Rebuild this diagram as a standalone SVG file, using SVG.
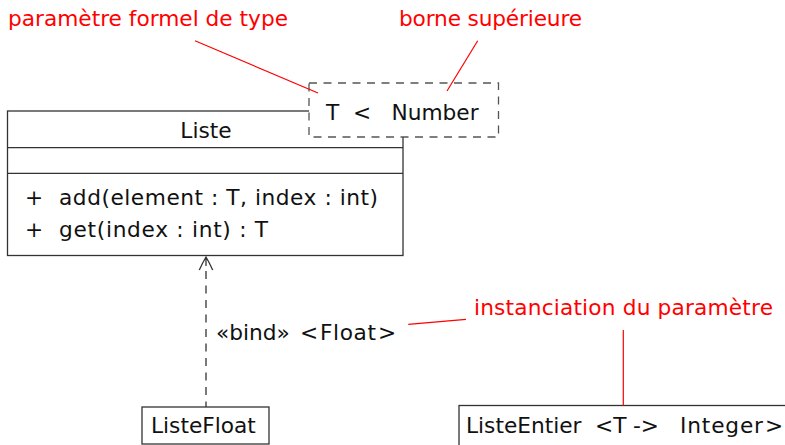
<svg xmlns="http://www.w3.org/2000/svg" width="785" height="445" viewBox="0 0 785 445">
<style>
text{font-family:"DejaVu Sans","Liberation Sans",sans-serif;font-size:21.7px;fill:#111}
.red{fill:#ff0000}
.box{fill:#fff;stroke:#333;stroke-width:1.3}
.line{stroke:#333;stroke-width:1.3;fill:none}
.dash{fill:#fff;stroke:#555;stroke-width:1.3;stroke-dasharray:8 6.5}
.note{stroke:#ff0000;stroke-width:1.2;fill:none}
</style>
<g id="Liste">
<rect class="box" x="7.5" y="111" width="395.5" height="144.5"/>
<line class="line" x1="7.5" y1="147.7" x2="403" y2="147.7"/>
<line class="line" x1="7.5" y1="173.3" x2="403" y2="173.3"/>
<text x="206" y="138" text-anchor="middle">Liste</text>
<text x="25" y="205">+</text>
<text x="59" y="205" textLength="319" lengthAdjust="spacing">add(element : T, index : int)</text>
<text x="25" y="237">+</text>
<text x="59" y="237" textLength="209" lengthAdjust="spacing">get(index : int) : T</text>
</g>
<g id="TypeParam">
<rect class="dash" x="309" y="83" width="189.5" height="54"/>
<text x="326" y="120">T</text>
<text x="353" y="120">&lt;</text>
<text x="391.5" y="120">Number</text>
</g>
<g id="ListeFloat">
<rect class="box" x="142" y="407" width="127" height="37"/>
<text x="151" y="433">ListeFloat</text>
</g>
<g id="ListeEntier">
<rect class="box" x="459" y="405.5" width="340" height="60"/>
<text x="466" y="433">ListeEntier</text>
<text x="595" y="433">&lt;T</text>
<text x="633" y="433">-&gt;</text>
<text x="680" y="433" textLength="83" lengthAdjust="spacing">Integer</text>
<text x="765" y="433">&gt;</text>
</g>
<g id="connectors">
<line class="line" x1="206" y1="271" x2="206" y2="407" stroke-dasharray="8 6.5"/>
<path class="line" d="M199.3 270 Q203 262 206 257 Q209 262 212.7 270 M206 257 V266"/>
<text x="216" y="340">«bind»</text>
<text x="300" y="340">&lt;</text>
<text x="320" y="340" textLength="56" lengthAdjust="spacing">Float</text>
<text x="378" y="340">&gt;</text>
</g>
<g id="annotations">
<text class="red" x="8" y="26" textLength="280" lengthAdjust="spacing">paramètre formel de type</text>
<text class="red" x="399" y="26" textLength="183" lengthAdjust="spacing">borne supérieure</text>
<text class="red" x="474" y="315" textLength="299" lengthAdjust="spacing">instanciation du paramètre</text>
<line class="note" x1="195" y1="40.7" x2="318" y2="93"/>
<line class="note" x1="477.7" y1="40.7" x2="447" y2="91"/>
<line class="note" x1="408.3" y1="324.3" x2="466" y2="319.3"/>
<line class="note" x1="623.3" y1="330" x2="623.3" y2="405.5"/>
</g>
</svg>
